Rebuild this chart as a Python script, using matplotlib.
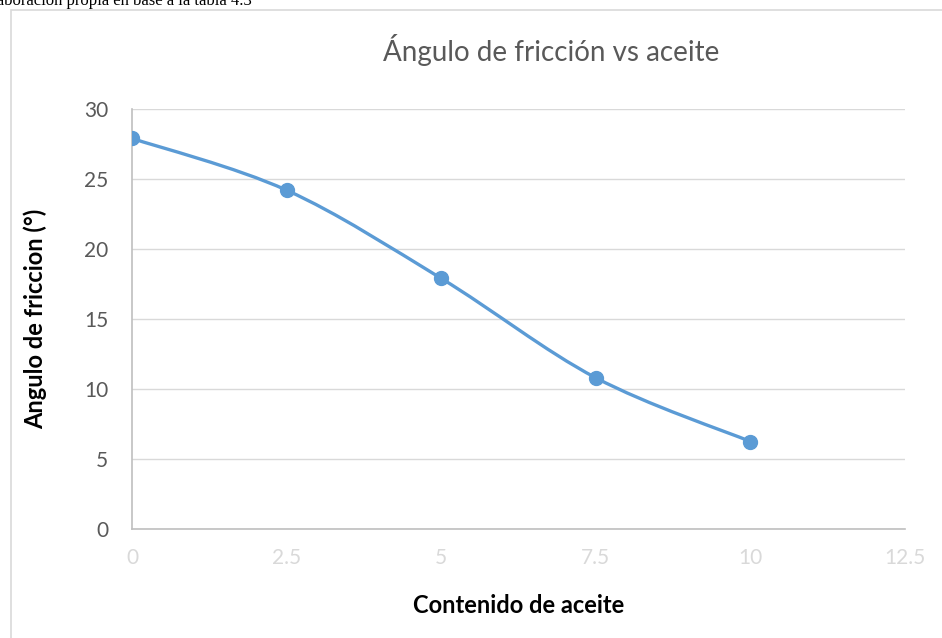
import numpy as np
import matplotlib.pyplot as plt
from matplotlib.path import Path
from matplotlib.patches import PathPatch, Rectangle

# Friction angle vs oil content
contenido = [0, 2.5, 5, 7.5, 10]
angulo = [27.9, 24.2, 17.9, 10.8, 6.25]
xticks = [0, 2.5, 5, 7.5, 10, 12.5]
yticks = [0, 5, 10, 15, 20, 25, 30]

plt.rcParams['font.family'] = ['Lato', 'DejaVu Sans']

W, H = 942, 638
fig = plt.figure(figsize=(W / 100, H / 100), dpi=100)
ax = fig.add_axes([132 / W, 1 - 529 / H, (905 - 132) / W, (529 - 109) / H])


def smooth_path(x, y, t=1 / 6):
    """Bezier path through the points, same idea as a spreadsheet smoothed line"""
    pts = np.column_stack([x, y]).astype(float)
    verts = [pts[0]]
    codes = [Path.MOVETO]
    n = len(pts)
    for i in range(n - 1):
        p0 = pts[max(i - 1, 0)]
        p1 = pts[i]
        p2 = pts[i + 1]
        p3 = pts[min(i + 2, n - 1)]
        c1 = p1 + (p2 - p0) * t
        c2 = p2 - (p3 - p1) * t
        verts += [c1, c2, p2]
        codes += [Path.CURVE4] * 3
    return Path(verts, codes)


ax.add_patch(PathPatch(smooth_path(contenido, angulo), fill=False,
                       edgecolor='#5b9bd5', lw=2.4, capstyle='round', zorder=3))
ax.plot(contenido, angulo, 'o', color='#5b9bd5', ms=10, zorder=4)

ax.set_xlim(0, 12.5)
ax.set_ylim(0, 30)
ax.set_xticks(xticks)
ax.set_xticklabels(['0', '2.5', '5', '7.5', '10', '12.5'])
ax.set_yticks(yticks)
ax.grid(axis='y', color='#d9d9d9', lw=1)
ax.set_axisbelow(True)
for s in ['top', 'right']:
    ax.spines[s].set_visible(False)
for s in ['left', 'bottom']:
    ax.spines[s].set_color('#bfbfbf')
    ax.spines[s].set_linewidth(1.2)
ax.tick_params(axis='both', length=0)
ax.tick_params(axis='x', labelsize=15, labelcolor='#d9d9d9', pad=14)
ax.tick_params(axis='y', labelsize=15, labelcolor='#595959', pad=17)

ax.set_xlabel('Contenido de aceite', fontsize=17, fontweight='bold', color='black')
ax.set_ylabel('Angulo de friccion (°)', fontsize=17, fontweight='bold', color='black')
ax.xaxis.set_label_coords(0.5, -0.155)
ax.yaxis.set_label_coords(-0.11, 0.5)

# title sits centred on the whole chart frame, which runs past the right edge
fig.text(551 / W, 1 - 50 / H, 'Ángulo de fricción vs aceite', fontsize=20,
         color='#595959', ha='center', va='center')

# chart frame and caption line above it
fig.patches.append(Rectangle((11 / W, -0.1), 1.2, 1.1 - 10 / H,
                             transform=fig.transFigure, fill=False,
                             edgecolor='#d9d9d9', lw=1.2))
fig.text(-18 / W, 1 - 5 / H, 'Elaboración propia en base a la tabla 4.3',
         family=['Liberation Serif'], fontsize=12, color='black',
         ha='left', va='baseline')

fig.savefig('out.png', dpi=100)
